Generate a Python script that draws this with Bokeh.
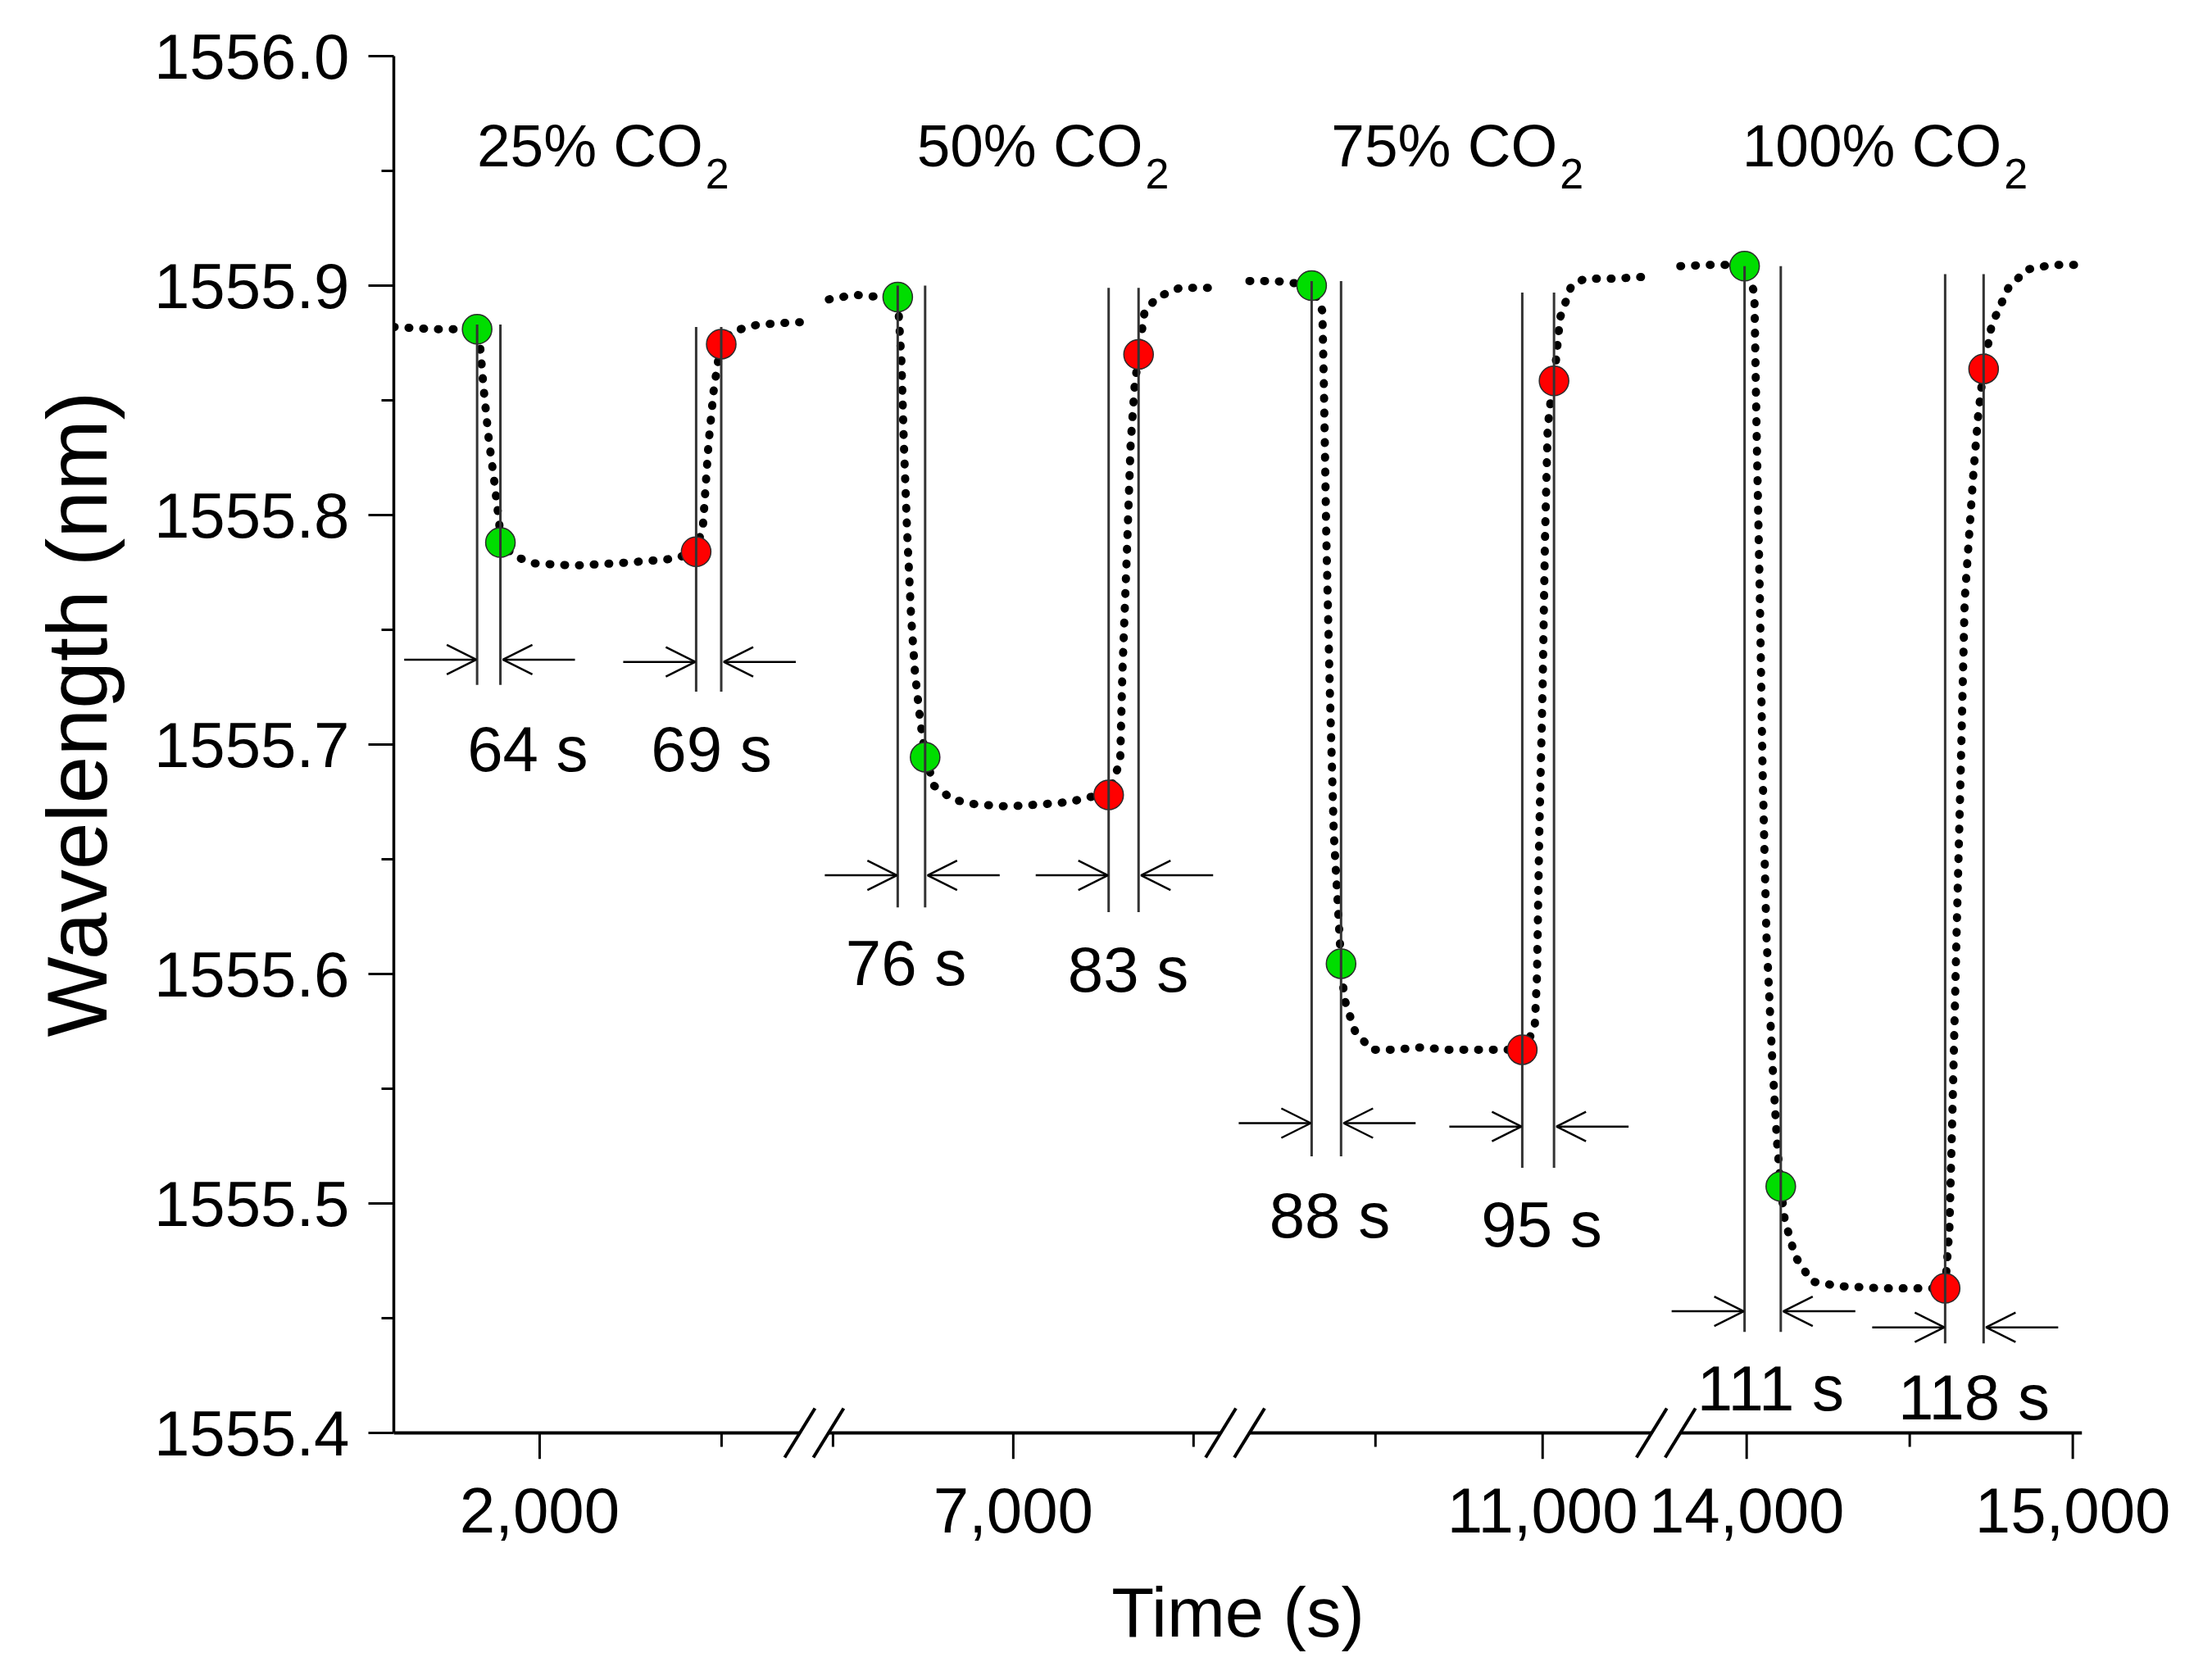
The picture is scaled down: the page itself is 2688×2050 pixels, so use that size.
from bokeh.plotting import figure
from bokeh.models import Range1d, FixedTicker, Arrow, OpenHead, PrintfTickFormatter, Title
from bokeh.embed import file_html
from bokeh.resources import INLINE
from bokeh.core.properties import value

# ---------------- broken time axis ----------------
SEG_START = [1600, 6487, 10123, 13796]      # s
SEG_END = [2716, 7575, 11326, 15028]        # s
SEG_SCALE = [0.444, 0.440, 0.408, 0.398]    # axis length per second in each segment
BREAK_GAP = 35

MAJOR_TICKS = [2000, 7000, 11000, 14000, 15000]
MAJOR_LABELS = ["2,000", "7,000", "11,000", "14,000", "15,000"]
MINOR_TICKS = [2500, 6500, 7500, 10500, 14500]

Y_MIN, Y_MAX = 1555.4, 1556.0
Y_TICKS = [1555.4, 1555.5, 1555.6, 1555.7, 1555.8, 1555.9, 1556.0]
Y_MINOR = [1555.45, 1555.55, 1555.65, 1555.75, 1555.85, 1555.95]

# ---------------- data (time s, wavelength nm) ----------------
T1 = [1600, 1712, 1829, 1837, 1847, 1861, 1876, 1890, 1893, 1933, 1983, 2098, 2213, 2299,
      2371, 2431, 2450, 2465, 2479, 2493, 2500, 2529, 2601, 2700, 2716]
W1 = [1555.882, 1555.881, 1555.881, 1555.874, 1555.855, 1555.833, 1555.815, 1555.796, 1555.788,
      1555.782, 1555.779, 1555.778, 1555.779, 1555.780, 1555.781, 1555.784, 1555.796, 1555.831,
      1555.854, 1555.869, 1555.875, 1555.880, 1555.883, 1555.884, 1555.884]

T2 = [6488, 6560, 6630, 6679, 6689, 6696, 6705, 6716, 6727, 6741, 6755, 6780, 6832, 6893, 6984,
      7082, 7159, 7205, 7264, 7296, 7302, 7314, 7325, 7336, 7347, 7364, 7400, 7461, 7575]
W2 = [1555.894, 1555.896, 1555.895, 1555.895, 1555.868, 1555.831, 1555.793, 1555.756, 1555.731,
      1555.711, 1555.695, 1555.682, 1555.676, 1555.674, 1555.673, 1555.674, 1555.675, 1555.677,
      1555.678, 1555.693, 1555.731, 1555.781, 1555.831, 1555.856, 1555.870, 1555.889, 1555.895,
      1555.899, 1555.899]

T3 = [10123, 10200, 10260, 10309, 10341, 10346, 10353, 10363, 10375, 10387, 10397, 10407, 10439,
      10488, 10554, 10635, 10718, 10799, 10873, 10939, 10976, 10983, 10990, 11000, 11007, 11015,
      11027, 11034, 11052, 11086, 11125, 11208, 11326]
W3 = [1555.902, 1555.902, 1555.901, 1555.900, 1555.889, 1555.854, 1555.790, 1555.726, 1555.662,
      1555.631, 1555.6045, 1555.589, 1555.575, 1555.567, 1555.567, 1555.568, 1555.567, 1555.567,
      1555.567, 1555.567, 1555.576, 1555.599, 1555.662, 1555.726, 1555.790, 1555.838, 1555.854,
      1555.8585, 1555.886, 1555.900, 1555.903, 1555.903, 1555.904]

T4 = [13796, 13880, 13950, 13993, 14023, 14030, 14040, 14048, 14060, 14078, 14093, 14104, 14116,
      14148, 14199, 14281, 14417, 14543, 14608, 14621, 14631, 14643, 14656, 14668, 14694, 14709,
      14726, 14751, 14802, 14859, 14935, 15015]
W4 = [1555.9085, 1555.909, 1555.909, 1555.9085, 1555.897, 1555.836, 1555.763, 1555.690, 1555.617,
      1555.562, 1555.526, 1555.507, 1555.493, 1555.477, 1555.466, 1555.464, 1555.463, 1555.463,
      1555.463, 1555.489, 1555.544, 1555.617, 1555.690, 1555.763, 1555.817, 1555.843, 1555.864,
      1555.883, 1555.899, 1555.907, 1555.909, 1555.909]

# response (green) and recovery (red) points
GREEN_T = [[1829, 1893], [6679, 6755], [10309, 10397], [13993, 14104]]
GREEN_W = [[1555.881, 1555.788], [1555.895, 1555.6945], [1555.900, 1555.6045], [1555.9085, 1555.5074]]
RED_T = [[2431, 2500], [7264, 7347], [10939, 11034], [14608, 14726]]
RED_W = [[1555.784, 1555.8745], [1555.678, 1555.870], [1555.567, 1555.8585], [1555.463, 1555.8637]]

GREEN_LINE_TOP = [1555.883, 1555.900, 1555.902, 1555.9085]
GREEN_LINE_BOTTOM = [1555.726, 1555.629, 1555.5205, 1555.444]
RED_LINE_TOP = [1555.882, 1555.899, 1555.897, 1555.905]
RED_LINE_BOTTOM = [1555.723, 1555.627, 1555.5155, 1555.439]
GREEN_ARROW_W = [1555.737, 1555.643, 1555.535, 1555.453]
RED_ARROW_W = [1555.736, 1555.643, 1555.5335, 1555.446]

RESP_TEXT = ["64 s", "69 s", "76 s", "83 s", "88 s", "95 s", "111 s", "118 s"]
RESP_T = [1968, 2473, 6702, 7318, 10363, 10997, 14073, 14696]
RESP_W = [1555.698, 1555.698, 1555.605, 1555.602, 1555.495, 1555.491, 1555.4195, 1555.4155]

TITLE_MAIN = ["25% CO", "50% CO", "75% CO", "100% CO"]
TITLE_SUB = ["2", "2", "2", "2"]
TITLE_T = [2450, 7359, 11044, 14781]
TITLE_W = [1555.961, 1555.961, 1555.961, 1555.961]
SUB_W = [1555.9487, 1555.9487, 1555.9487, 1555.9487]

# ---------------- axis mapping ----------------
OFFS = []
_d = 0.0
for _a, _b, _k in zip(SEG_START, SEG_END, SEG_SCALE):
    OFFS.append(_d)
    _d += (_b - _a) * _k + BREAK_GAP
X_END = OFFS[-1] + (SEG_END[-1] - SEG_START[-1]) * SEG_SCALE[-1]


def seg_of(t):
    for i in range(len(SEG_START)):
        if t <= SEG_END[i] + 1:
            return i
    return len(SEG_START) - 1


def disp(t):
    i = seg_of(t)
    return OFFS[i] + (t - SEG_START[i]) * SEG_SCALE[i]


FONT = "Liberation Sans"
PX = 1.0 / 2800.0          # nm per screen pixel on the y axis
EXT_BOTTOM = 32 * PX       # room under the x axis line for ticks and break marks
EXT_TOP = 60 * PX

p = figure(width=2688, height=2050,
           x_range=Range1d(0, X_END), y_range=Range1d(Y_MIN - EXT_BOTTOM, Y_MAX + EXT_TOP),
           output_backend="svg", toolbar_location=None,
           min_border_left=480, min_border_right=148, min_border_top=8, min_border_bottom=270)
p.xgrid.visible = False
p.ygrid.visible = False
p.outline_line_color = None
p.background_fill_color = "white"

# x axis: labels from Bokeh's axis; line and tick marks drawn at y = Y_MIN
xt = [int(round(disp(t))) for t in MAJOR_TICKS]
xm = [int(round(disp(t))) for t in MINOR_TICKS]
p.xaxis.ticker = FixedTicker(ticks=xt, minor_ticks=xm)
p.xaxis.major_label_overrides = {k: v for k, v in zip(xt, MAJOR_LABELS)}
p.xaxis.axis_label = "Time (s)"
p.yaxis.ticker = FixedTicker(ticks=Y_TICKS, minor_ticks=Y_MINOR)
p.yaxis.formatter = PrintfTickFormatter(format="%.1f")
p.yaxis.bounds = (Y_MIN, Y_MAX)

for ax in (p.xaxis[0], p.yaxis[0]):
    ax.axis_line_color = "black"
    ax.major_tick_line_width = 3
    ax.minor_tick_line_width = 3
    ax.major_tick_in = 0
    ax.minor_tick_in = 0
    ax.major_label_text_font = FONT
    ax.major_label_text_font_size = "78px"
    ax.major_label_text_color = "black"
    ax.axis_label_text_font = FONT
    ax.axis_label_text_font_style = "normal"
    ax.axis_label_text_color = "black"

p.xaxis.axis_line_color = None
p.xaxis.major_tick_line_color = None
p.xaxis.minor_tick_line_color = None
p.xaxis.major_tick_out = 0
p.xaxis.minor_tick_out = 0
p.xaxis.major_label_standoff = 35
p.xaxis.axis_label_text_font_size = "85px"
p.xaxis.axis_label_standoff = 47

p.yaxis.axis_line_width = 3.5
p.yaxis.major_tick_out = 31
p.yaxis.minor_tick_out = 15
p.yaxis.major_label_standoff = 23

# y axis title, placed beside the axis and positioned like the original
p.add_layout(Title(text="Wavelength (nm)", align="left", offset=515, standoff=66,
                   text_font=FONT, text_font_size="104px", text_font_style="normal",
                   text_color="black"), "left")

# x axis line in pieces, interrupted at the breaks
bx0 = [0.0] + [disp(SEG_START[i + 1]) for i in range(len(SEG_START) - 1)]
bx1 = [disp(SEG_END[i]) for i in range(len(SEG_START) - 1)] + [X_END]
p.segment(x0=bx0, y0=[Y_MIN] * len(bx0), x1=bx1, y1=[Y_MIN] * len(bx0),
          line_color="black", line_width=4)
# x tick marks
p.segment(x0=xt, y0=[Y_MIN] * len(xt), x1=xt, y1=[Y_MIN - 32 * PX] * len(xt),
          line_color="black", line_width=3)
p.segment(x0=xm, y0=[Y_MIN] * len(xm), x1=xm, y1=[Y_MIN - 17 * PX] * len(xm),
          line_color="black", line_width=3)
# break marks "//"
sx0, sy0, sx1, sy1 = [], [], [], []
for i in range(len(SEG_START) - 1):
    for c in (disp(SEG_END[i]), disp(SEG_START[i + 1])):
        sx0.append(c - 18.5); sy0.append(Y_MIN - 30 * PX)
        sx1.append(c + 18.5); sy1.append(Y_MIN + 30 * PX)
p.segment(x0=sx0, y0=sy0, x1=sx1, y1=sy1, line_color="black", line_width=4)

# dotted curves
for T, W in ((T1, W1), (T2, W2), (T3, W3), (T4, W4)):
    p.line([disp(t) for t in T], W, line_color="black", line_width=10,
           line_dash="1 17", line_cap="round", line_join="round")

# markers
gx = [disp(t) for pair in GREEN_T for t in pair]
gy = [w for pair in GREEN_W for w in pair]
rx = [disp(t) for pair in RED_T for t in pair]
ry = [w for pair in RED_W for w in pair]
p.scatter(gx, gy, size=36, fill_color="#00dd00", line_color="#2b2b2b", line_width=1.5)
p.scatter(rx, ry, size=36, fill_color="#ff0000", line_color="#2b2b2b", line_width=1.5)

# vertical lines
vx, vy0, vy1 = [], [], []
for i in range(4):
    for t in GREEN_T[i]:
        vx.append(disp(t)); vy0.append(GREEN_LINE_TOP[i]); vy1.append(GREEN_LINE_BOTTOM[i])
    for t in RED_T[i]:
        vx.append(disp(t)); vy0.append(RED_LINE_TOP[i]); vy1.append(RED_LINE_BOTTOM[i])
p.segment(x0=vx, y0=vy0, x1=vx, y1=vy1, line_color="#333333", line_width=3)

# arrows
ARROW_LEN = 88
for i in range(4):
    for pair, yy in ((GREEN_T[i], GREEN_ARROW_W[i]), (RED_T[i], RED_ARROW_W[i])):
        xa, xb = disp(pair[0]), disp(pair[1])
        p.add_layout(Arrow(x_start=xa - ARROW_LEN - 1, y_start=yy, x_end=xa - 1, y_end=yy,
                           end=OpenHead(size=36, line_width=2.5, line_color="black"),
                           line_width=2.5, line_color="black"))
        p.add_layout(Arrow(x_start=xb + ARROW_LEN + 3, y_start=yy, x_end=xb + 3, y_end=yy,
                           end=OpenHead(size=36, line_width=2.5, line_color="black"),
                           line_width=2.5, line_color="black"))

# response time labels
p.text([disp(t) for t in RESP_T], RESP_W, text=RESP_TEXT, text_font=value(FONT),
       text_font_size=value("78px"), text_align="center", text_baseline="middle", text_color="black")

# titles with subscript
p.text([disp(t) for t in TITLE_T], TITLE_W, text=TITLE_MAIN, text_font=value(FONT),
       text_font_size=value("73px"), text_align="right", text_baseline="middle", text_color="black")
p.text([disp(t) for t in TITLE_T], SUB_W, text=TITLE_SUB, text_font=value(FONT),
       text_font_size=value("52px"), text_align="left", text_baseline="middle",
       x_offset=3, text_color="black")

open("out.html", "w").write(file_html(p, INLINE))
